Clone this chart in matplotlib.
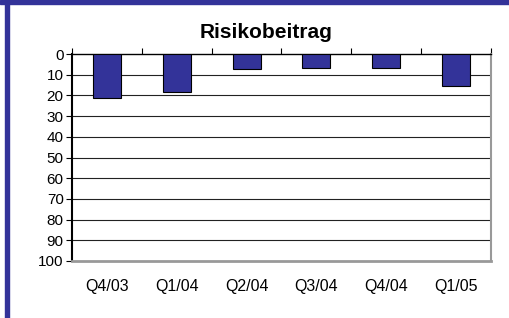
import numpy as np
import matplotlib
matplotlib.use("Agg")
import matplotlib.pyplot as plt
from matplotlib.patches import Rectangle

quarters = ["Q4/03", "Q1/04", "Q2/04", "Q3/04", "Q4/04", "Q1/05"]
risk = [21.3, 18.5, 7.4, 7.0, 7.0, 15.5]
yticks = list(range(0, 101, 10))

bar_color = "#333399"
fonts = ["Liberation Sans", "DejaVu Sans"]

fig = plt.figure(figsize=(5.1, 3.18), dpi=100)
fig.patch.set_facecolor("white")

# purple frame pieces (top band, left bar)
fig.patches.append(Rectangle((0, 1 - 4 / 318), 1, 4 / 318, transform=fig.transFigure,
                             color=bar_color, zorder=0))
fig.patches.append(Rectangle((5 / 510, 0), 4 / 510, 1, transform=fig.transFigure,
                             color=bar_color, zorder=0))

ax = fig.add_axes([72 / 510, 57 / 318, 419 / 510, 207 / 318])

x = np.arange(len(quarters))
ax.bar(x, risk, width=0.4, color=bar_color, edgecolor="black", linewidth=0.8, zorder=3)

ax.set_xlim(-0.5, len(quarters) - 0.5)
ax.set_ylim(100, 0)
ax.set_yticks(yticks)
ax.set_yticklabels([str(v) for v in yticks], fontsize=11, family=fonts)

for v in yticks[1:-1]:
    ax.axhline(v, color="#222222", linewidth=0.8, zorder=1)

ax.set_xticks(x)
ax.set_xticklabels(quarters, fontsize=11.5, family=fonts)
ax.tick_params(axis="x", which="major", length=0, pad=13)
ax.set_xticks(np.arange(-0.5, len(quarters)), minor=True)
ax.tick_params(axis="x", which="minor", bottom=False, top=True, direction="out",
               length=4, width=0.8, color="black")
ax.tick_params(axis="y", direction="out", length=4, width=0.8, pad=2)

ax.spines["top"].set_color("black")
ax.spines["top"].set_linewidth(1.0)
ax.spines["left"].set_color("black")
ax.spines["left"].set_linewidth(1.5)
ax.spines["bottom"].set_color("#999999")
ax.spines["bottom"].set_linewidth(2.0)
ax.spines["right"].set_color("#999999")
ax.spines["right"].set_linewidth(1.5)

fig.text(266 / 510, 1 - 33 / 318, "Risikobeitrag", ha="center", va="center",
         fontsize=15, fontweight="bold", family=fonts)

fig.savefig("out.png", dpi=100)
